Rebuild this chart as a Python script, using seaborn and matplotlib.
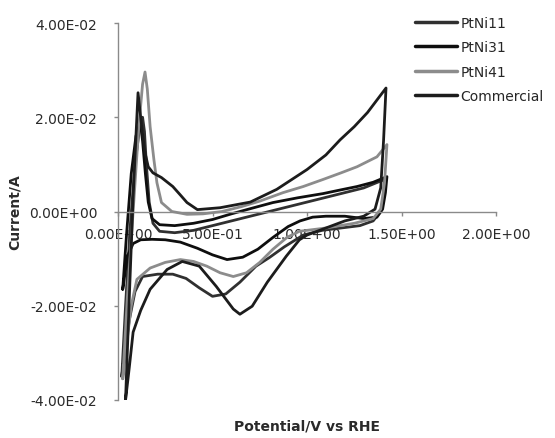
import pandas as pd
import matplotlib
matplotlib.use("Agg")
import matplotlib.pyplot as plt
import matplotlib.ticker as mticker
import seaborn as sns

# ── Data: CV loops, potential (V vs RHE) and current (x1e-2 A) ──
# each loop: anodic sweep up to ~1.42 V, then cathodic sweep back
pt11_v = [0.02, 0.04, 0.065, 0.09, 0.115, 0.13, 0.14, 0.15, 0.165, 0.185, 0.22, 0.30, 0.40,
          0.50, 0.60, 0.70, 0.80, 0.90, 1.00, 1.10, 1.20, 1.30, 1.41,
          1.405, 1.39, 1.35, 1.28, 1.18, 1.08, 0.98, 0.88, 0.80, 0.73, 0.645, 0.57, 0.50,
          0.43, 0.36, 0.29, 0.21, 0.13, 0.09, 0.06, 0.035, 0.02]
pt11_i = [-3.5, -2.0, -0.3, 1.0, 1.8, 2.0, 1.7, 1.0, 0.2, -0.25, -0.42, -0.45, -0.40,
          -0.30, -0.20, -0.10, 0.0, 0.10, 0.20, 0.30, 0.40, 0.50, 0.68,
          0.30, 0.0, -0.20, -0.30, -0.35, -0.40, -0.50, -0.75, -0.98, -1.16, -1.50, -1.75, -1.80,
          -1.62, -1.42, -1.33, -1.33, -1.38, -1.70, -2.30, -3.0, -3.5]

pt31_v = [0.025, 0.045, 0.07, 0.095, 0.118, 0.13, 0.145, 0.16, 0.18, 0.22, 0.30, 0.40, 0.50,
          0.60, 0.70, 0.82, 0.95, 1.085, 1.18, 1.265, 1.35, 1.423,
          1.415, 1.40, 1.37, 1.30, 1.20, 1.10, 1.03, 0.963, 0.90, 0.82, 0.74, 0.66, 0.577,
          0.50, 0.42, 0.33, 0.25, 0.18, 0.12, 0.08, 0.05, 0.025]
pt31_i = [-1.65, -0.5, 0.8, 1.6, 1.9, 1.5, 0.8, 0.2, -0.15, -0.28, -0.30, -0.25, -0.17,
          -0.05, 0.06, 0.19, 0.29, 0.38, 0.46, 0.53, 0.62, 0.74,
          0.40, 0.05, -0.12, -0.15, -0.10, -0.10, -0.12, -0.20, -0.32, -0.55, -0.80, -0.97, -1.02,
          -0.92, -0.78, -0.65, -0.60, -0.59, -0.60, -0.68, -0.95, -1.65]

pt41_v = [0.025, 0.05, 0.08, 0.11, 0.13, 0.143, 0.155, 0.17, 0.19, 0.206, 0.23, 0.285, 0.365,
          0.45, 0.55, 0.65, 0.75, 0.873, 0.98, 1.085, 1.18, 1.265, 1.37, 1.423,
          1.41, 1.39, 1.35, 1.25, 1.10, 1.00, 0.96, 0.894, 0.82, 0.75, 0.68, 0.61, 0.54,
          0.47, 0.40, 0.33, 0.25, 0.17, 0.10, 0.07, 0.04, 0.025]
pt41_i = [-3.55, -1.8, 0.0, 1.8, 2.7, 2.96, 2.6, 1.8, 1.1, 0.61, 0.19, 0.0, -0.06,
          -0.05, 0.0, 0.10, 0.22, 0.40, 0.53, 0.68, 0.82, 0.95, 1.16, 1.42,
          0.60, 0.05, -0.15, -0.25, -0.35, -0.40, -0.42, -0.55, -0.80, -1.08, -1.30, -1.38, -1.30,
          -1.16, -1.06, -1.02, -1.08, -1.20, -1.44, -2.0, -3.0, -3.55]

comm_v = [0.04, 0.06, 0.08, 0.095, 0.106, 0.12, 0.14, 0.16, 0.185, 0.23, 0.29, 0.33, 0.365,
          0.42, 0.54, 0.70, 0.84, 1.00, 1.10, 1.175, 1.25, 1.32, 1.418,
          1.405, 1.39, 1.36, 1.30, 1.20, 1.10, 1.00, 0.96, 0.89, 0.79, 0.71, 0.645, 0.61,
          0.52, 0.43, 0.34, 0.26, 0.17, 0.12, 0.08, 0.06, 0.04]
comm_i = [-4.0, -1.8, 0.3, 1.6, 2.52, 2.0, 1.3, 0.95, 0.82, 0.72, 0.53, 0.35, 0.19,
          0.04, 0.08, 0.20, 0.47, 0.89, 1.20, 1.52, 1.80, 2.10, 2.62,
          1.5, 0.5, 0.05, -0.10, -0.20, -0.35, -0.50, -0.60, -0.95, -1.50, -2.01, -2.18, -2.07,
          -1.59, -1.16, -1.06, -1.23, -1.65, -2.10, -2.56, -3.30, -4.0]

samples = ["PtNi11", "PtNi31", "PtNi41", "Commercial"]
colors = ["#303030", "#0e0e0e", "#8c8c8c", "#1c1c1c"]

frames = []
for name, v, i in zip(samples, [pt11_v, pt31_v, pt41_v, comm_v],
                      [pt11_i, pt31_i, pt41_i, comm_i]):
    frames.append(pd.DataFrame({"V": v, "I": [x * 1e-2 for x in i], "sample": name}))
df = pd.concat(frames, ignore_index=True)

# ── Style ─────────────────────────────────────────────
sns.set_theme(style="white")
plt.rcParams["font.family"] = ["DejaVu Sans"]

fig = plt.figure(figsize=(5.55, 4.39), dpi=100)
ax = fig.add_axes([118 / 555, 1 - 401 / 439, (496 - 118) / 555, (401 - 24) / 439])

sns.lineplot(data=df, x="V", y="I", hue="sample", hue_order=samples,
             palette=colors, sort=False, estimator=None, lw=2.0, ax=ax)

ax.set_xlim(0, 2.0)
ax.set_ylim(-0.04, 0.04)
ax.set_xticks([0, 0.5, 1.0, 1.5, 2.0])
ax.set_yticks([-0.04, -0.02, 0, 0.02, 0.04])
ax.xaxis.set_major_formatter(mticker.FuncFormatter(lambda x, _: f"{x:.2E}"))
ax.yaxis.set_major_formatter(mticker.FuncFormatter(lambda y, _: f"{y:.2E}"))

for s in ["top", "right"]:
    ax.spines[s].set_visible(False)
ax.spines["bottom"].set_position(("data", 0))
for s in ["left", "bottom"]:
    ax.spines[s].set_color("#8a8a8a")
    ax.spines[s].set_linewidth(1.0)
ax.tick_params(axis="both", which="major", direction="out", length=3,
               width=1.0, color="#8a8a8a", labelsize=10, labelcolor="#2a2a2a",
               bottom=True, left=True)
ax.tick_params(axis="x", pad=8)
ax.tick_params(axis="y", pad=12)
ax.set_zorder(1)

ax.set_xlabel("Potential/V vs RHE", fontweight="bold", fontsize=10, color="#2a2a2a")
ax.set_ylabel("Current/A", fontweight="bold", fontsize=10, color="#2a2a2a")
ax.xaxis.set_label_coords(0.5, -0.05)
ax.yaxis.set_label_coords(-0.255, 0.5)

sns.move_legend(ax, loc="upper left", bbox_to_anchor=(0.772, 1.034),
                frameon=False, title=None, fontsize=10, handlelength=3.0,
                handletextpad=0.25, labelspacing=0.75, borderaxespad=0)
for line in ax.get_legend().get_lines():
    line.set_linewidth(2.5)

fig.savefig("out.png", dpi=100)
